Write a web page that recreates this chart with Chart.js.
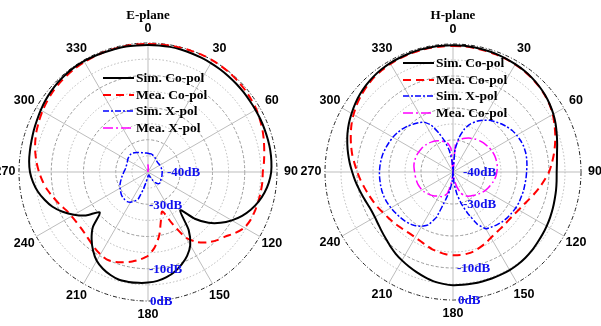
<!DOCTYPE html>
<html>
<head>
<meta charset="utf-8">
<script src="https://cdn.jsdelivr.net/npm/chart.js@4.4.1/dist/chart.umd.min.js"></script>
<style>
  html, body { margin: 0; padding: 0; background: #fff; }
  #wrap { position: relative; width: 601px; height: 326px; overflow: hidden; }
  .pane { position: absolute; top: 0; height: 326px; }
  .legend { position: absolute; font: bold 13.5px "Liberation Serif", "Times New Roman", serif; color: #000; }
  .legend .row { height: 16.6px; line-height: 16.6px; white-space: nowrap; display: flex; align-items: center; }
  .legend svg { margin-right: 2px; }
</style>
</head>
<body>
<div id="wrap">
  <div class="pane" style="left:0;width:300px"><canvas id="ePlane"></canvas></div>
  <div class="pane" style="left:300px;width:301px"><canvas id="hPlane"></canvas></div>
  <div class="legend" id="eLegend" style="left:103px;top:70px"></div>
  <div class="legend" id="hLegend" style="left:403px;top:55px"></div>
</div>
<script>
// angle categories (deg), every 5 degrees, clockwise from top
const angles = [0, 5, 10, 15, 20, 25, 30, 35, 40, 45, 50, 55, 60, 65, 70, 75, 80, 85,
  90, 95, 100, 105, 110, 115, 120, 125, 130, 135, 140, 145, 150, 155, 160, 165, 170, 175,
  180, 185, 190, 195, 200, 205, 210, 215, 220, 225, 230, 235, 240, 245, 250, 255, 260, 265,
  270, 275, 280, 285, 290, 295, 300, 305, 310, 315, 320, 325, 330, 335, 340, 345, 350, 355];
const angleTicks = [0, 30, 60, 90, 120, 150, 180, 210, 240, 270, 300, 330];
const dbTicks = [-40, -30, -10, 0];
const dbLabels = ['-40dB', '-30dB', '-10dB', '0dB'];

// E-plane (dB)
const eSimCo = [-0.6, -0.6, -0.6, -0.7, -0.8, -0.9, -1.0, -1.1, -1.2, -1.3, -1.4, -1.5, -1.5, -1.5, -1.5, -1.5, -1.5, -1.6,
  -1.8, -2.4, -3.3, -4.5, -6.0, -7.8, -10.0, -12.5, -15.5, -19.5, -24.5, -18.0, -13.8, -11.3, -9.5, -8.0, -6.9, -6.1,
  -5.7, -5.5, -5.4, -5.4, -6.0, -6.9, -8.2, -10.3, -12.8, -15.8, -20.5, -16.5, -13.5, -10.8, -8.5, -6.8, -5.3, -4.2,
  -3.4, -3.0, -2.8, -2.6, -2.3, -2.0, -1.6, -1.2, -0.9, -0.6, -0.4, -0.3, -0.3, -0.4, -0.5, -0.5, -0.5, -0.6];
const eMeaCo = [-0.3, -0.25, -0.2, -0.15, -0.1, 0, 0, -0.1, -0.2, -0.4, -0.6, -0.9, -1.2, -1.7, -2.2, -2.8, -3.4, -3.9,
  -4.4, -4.4, -4.5, -4.6, -4.7, -4.9, -5.5, -7.0, -8.8, -10.0, -11.5, -13.5, -16.5, -22.5, -27.0, -24.5, -20.0, -16.5,
  -14.0, -12.8, -11.8, -11.0, -10.3, -10.0, -10.5, -11.2, -12.0, -12.6, -12.9, -12.9, -12.6, -12.0, -10.8, -9.6, -8.3, -7.2,
  -6.2, -5.3, -4.5, -3.8, -3.2, -2.7, -2.2, -1.8, -1.4, -1.1, -0.9, -0.7, -0.6, -0.5, -0.4, -0.4, -0.3, -0.3];
const eSimX = [-34.2, -34.3, -34.3, -34.5, -34.8, -35.0, -35.3, -35.5, -35.7, -35.8, -35.8, -35.8, -35.8, -35.8, -35.7, -35.7, -35.6, -35.6,
  -35.6, -35.6, -35.6, -35.5, -35.5, -35.5, -35.4, -35.2, -35.0, -35.0, -35.3, -36.0, -37.0, -38.0, -38.6, -39.0, -39.0, -38.9,
  -38.7, -38.0, -37.0, -34.5, -31.0, -30.0, -29.2, -28.8, -28.8, -28.9, -29.2, -29.6, -30.0, -30.4, -30.9, -31.4, -31.8, -32.2,
  -32.5, -32.8, -33.0, -33.0, -33.0, -32.9, -32.7, -32.5, -32.4, -32.3, -32.4, -32.7, -33.0, -33.3, -33.6, -33.8, -34.0, -34.1];
const eMeaX = [-37.8, -39.0, -40, -40, -40, -40, -40, -40, -40, -40, -40, -40, -40, -40, -40, -40, -40, -40,
  -40, -40, -40, -40, -40, -40, -40, -40, -40, -40, -40, -40, -40, -40, -40, -40, -40, -40,
  -40, -40, -40, -40, -40, -40, -40, -40, -40, -40, -40, -40, -40, -40, -40, -40, -40, -40,
  -40, -40, -40, -40, -40, -40, -40, -40, -40, -40, -40, -40, -40, -40, -40, -40, -40, -39.3];

// H-plane (dB)
const hSimCo = [-0.4, -0.4, -0.5, -0.6, -0.7, -0.9, -1.1, -1.3, -1.6, -2.0, -2.5, -3.1, -3.8, -4.6, -5.5, -6.3, -7.0, -7.4,
  -7.6, -7.5, -7.3, -7.1, -6.8, -6.5, -6.2, -5.9, -5.6, -5.2, -4.9, -4.7, -4.6, -4.6, -4.6, -4.6, -4.6, -4.6,
  -4.6, -4.9, -5.3, -6.0, -6.7, -7.4, -8.1, -8.8, -9.6, -10.4, -11.0, -11.5, -11.8, -11.8, -11.4, -10.8, -10.1, -9.3,
  -8.5, -7.6, -6.7, -5.8, -4.9, -4.1, -3.4, -2.7, -2.1, -1.6, -1.2, -0.9, -0.7, -0.6, -0.5, -0.4, -0.4, -0.4];
const hMeaCo = [-0.6, -0.6, -0.7, -0.8, -0.9, -1.0, -1.2, -1.4, -1.7, -2.1, -2.6, -3.2, -4.0, -5.0, -6.0, -7.0, -8.0, -9.0,
  -10.0, -11.3, -12.5, -13.7, -14.8, -15.7, -16.3, -16.8, -17.0, -17.0, -16.9, -16.7, -16.3, -15.6, -15.0, -14.4, -14.1, -14.0,
  -14.0, -14.2, -14.6, -15.0, -15.6, -16.1, -16.4, -16.5, -16.3, -16.0, -15.6, -15.2, -14.7, -14.0, -13.4, -12.7, -11.9, -11.0,
  -10.1, -9.1, -8.0, -7.0, -6.0, -5.0, -4.1, -3.3, -2.6, -2.0, -1.5, -1.2, -1.0, -0.8, -0.7, -0.6, -0.6, -0.6];
const hSimX = [-40, -33, -29, -26, -24, -22.5, -21.3, -20.3, -19.5, -18.7, -18.0, -17.4, -17.0, -16.7, -16.5, -16.5, -16.6, -16.8,
  -17.0, -17.1, -17.2, -17.2, -17.3, -17.3, -17.4, -17.6, -17.8, -18.1, -18.5, -19.0, -19.5, -22.0, -26.0, -29.5, -33.0, -36.5,
  -40, -37, -34, -31, -25, -21.8, -20.4, -19.5, -18.9, -18.5, -18.2, -17.9, -17.6, -17.3, -17.1, -17.0, -17.0, -17.0,
  -17.0, -17.1, -17.2, -17.4, -17.7, -18.0, -18.3, -18.7, -19.2, -19.8, -20.5, -21.2, -22.0, -23.8, -27.0, -30.0, -33.0, -36.5];
const hMeaX = [-40, -31.5, -30.0, -29.3, -28.8, -28.3, -27.9, -27.5, -27.2, -26.9, -26.7, -26.4, -26.2, -26.1, -26.0, -26.0, -26.0, -26.1,
  -26.3, -26.5, -26.8, -27.2, -27.6, -28.0, -28.4, -28.9, -29.4, -29.9, -30.4, -30.8, -31.3, -32.0, -33.0, -35.0, -37.0, -39.0,
  -40, -38.5, -35.5, -33.0, -32.0, -31.5, -31.3, -30.8, -30.3, -29.9, -29.5, -29.1, -28.8, -28.6, -28.4, -28.3, -28.2, -28.1,
  -28.0, -27.8, -27.6, -27.5, -27.5, -27.5, -27.6, -27.7, -27.8, -28.0, -28.2, -28.5, -28.8, -29.2, -29.7, -30.3, -31.0, -32.5];

// draws title, angle labels and dB labels from the radial scale
const polarText = {
  id: 'polarText',
  afterDatasetsDraw(chart, args, opts) {
    const r = chart.scales.r;
    const ctx = chart.ctx;
    ctx.save();
    ctx.textBaseline = 'middle';
    ctx.textAlign = 'center';
    ctx.fillStyle = '#000';
    ctx.font = 'bold 13px "Liberation Serif", "Times New Roman", serif';
    ctx.fillText(opts.title, r.xCenter, 16);

    ctx.font = 'bold 12.5px "Liberation Sans", Arial, sans-serif';
    angleTicks.forEach(a => {
      const p = r.getPointPosition(angles.indexOf(a), r.drawingArea + 14);
      ctx.fillText(String(a), p.x, p.y);
    });

    ctx.textAlign = 'left';
    ctx.fillStyle = '#1010ee';
    ctx.font = 'bold 13px "Liberation Serif", "Times New Roman", serif';
    dbTicks.forEach((v, i) => {
      const d = r.getDistanceFromCenterForValue(v);
      ctx.fillText(dbLabels[i], r.xCenter + opts.shift[i], r.yCenter + d + 1);
    });
    ctx.restore();
  }
};

const makeDatasets = (simCo, meaCo, simX, meaX, names) => [
  { label: names[0], data: simCo, borderColor: '#000000', borderWidth: 2, borderDash: [], tension: 0.25 },
  { label: names[1], data: meaCo, borderColor: '#ff0000', borderWidth: 2, borderDash: [8, 5], tension: 0.25 },
  { label: names[2], data: simX, borderColor: '#0000ff', borderWidth: 1.5, borderDash: [6, 2, 2, 2], tension: 0.1 },
  { label: names[3], data: meaX, borderColor: '#ff00ff', borderWidth: 1.5, borderDash: [10, 3, 2, 3], tension: 0.1 }
].map(ds => Object.assign(ds, { fill: false, pointRadius: 0, pointHoverRadius: 0, backgroundColor: 'transparent' }));

function makeChart(id, datasets, title, padding, shift) {
  return new Chart(document.getElementById(id), {
    type: 'radar',
    data: { labels: angles, datasets: datasets },
    options: {
      responsive: true,
      maintainAspectRatio: false,
      animation: false,
      events: [],
      layout: { padding: padding },
      plugins: {
        legend: { display: false },
        tooltip: { enabled: false },
        polarText: { title: title, shift: shift }
      },
      scales: {
        r: {
          min: -40,
          max: 0,
          ticks: { stepSize: 5, display: false },
          pointLabels: { display: false },
          grid: {
            circular: true,
            lineWidth: 1,
            color: c => c.tick.value === 0 ? '#222222' : (c.tick.value % 10 === 0 ? '#999999' : '#b8b8b8')
          },
          border: {
            dash: c => c.tick.value === 0 ? [4, 2, 1, 2] : (c.tick.value % 10 === 0 ? [3, 2] : [1.5, 2])
          },
          angleLines: {
            color: c => c.index % 6 === 0 ? '#bdbdbd' : 'rgba(0,0,0,0)',
            lineWidth: c => c.index % 6 === 0 ? 1 : 0
          }
        }
      }
    },
    plugins: [polarText]
  });
}

// simple html legend built from the datasets
function buildLegend(elId, datasets) {
  const el = document.getElementById(elId);
  datasets.forEach(ds => {
    const row = document.createElement('div');
    row.className = 'row';
    const dash = ds.borderDash.length ? ds.borderDash.join(' ') : 'none';
    row.innerHTML = '<svg width="31" height="6"><line x1="0" y1="3" x2="31" y2="3" stroke="' + ds.borderColor +
      '" stroke-width="' + ds.borderWidth + '" stroke-dasharray="' + dash + '"/></svg><span>' + ds.label + '</span>';
    el.appendChild(row);
  });
}

const eSets = makeDatasets(eSimCo, eMeaCo, eSimX, eMeaX, ['Sim. Co-pol', 'Mea. Co-pol', 'Sim. X-pol', 'Mea. X-pol']);
const hSets = makeDatasets(hSimCo, hMeaCo, hSimX, hMeaX, ['Sim. Co-pol', 'Mea. Co-pol', 'Sim. X-pol', 'Mea. Co-pol']);

makeChart('ePlane', eSets, 'E-plane', { left: 19, top: 43, right: 23, bottom: 25 }, [19, 1, 1, 2]);
makeChart('hPlane', hSets, 'H-plane', { left: 25, top: 44, right: 19, bottom: 25 }, [10, 10, 4, 5]);
buildLegend('eLegend', eSets);
buildLegend('hLegend', hSets);
</script>
</body>
</html>
